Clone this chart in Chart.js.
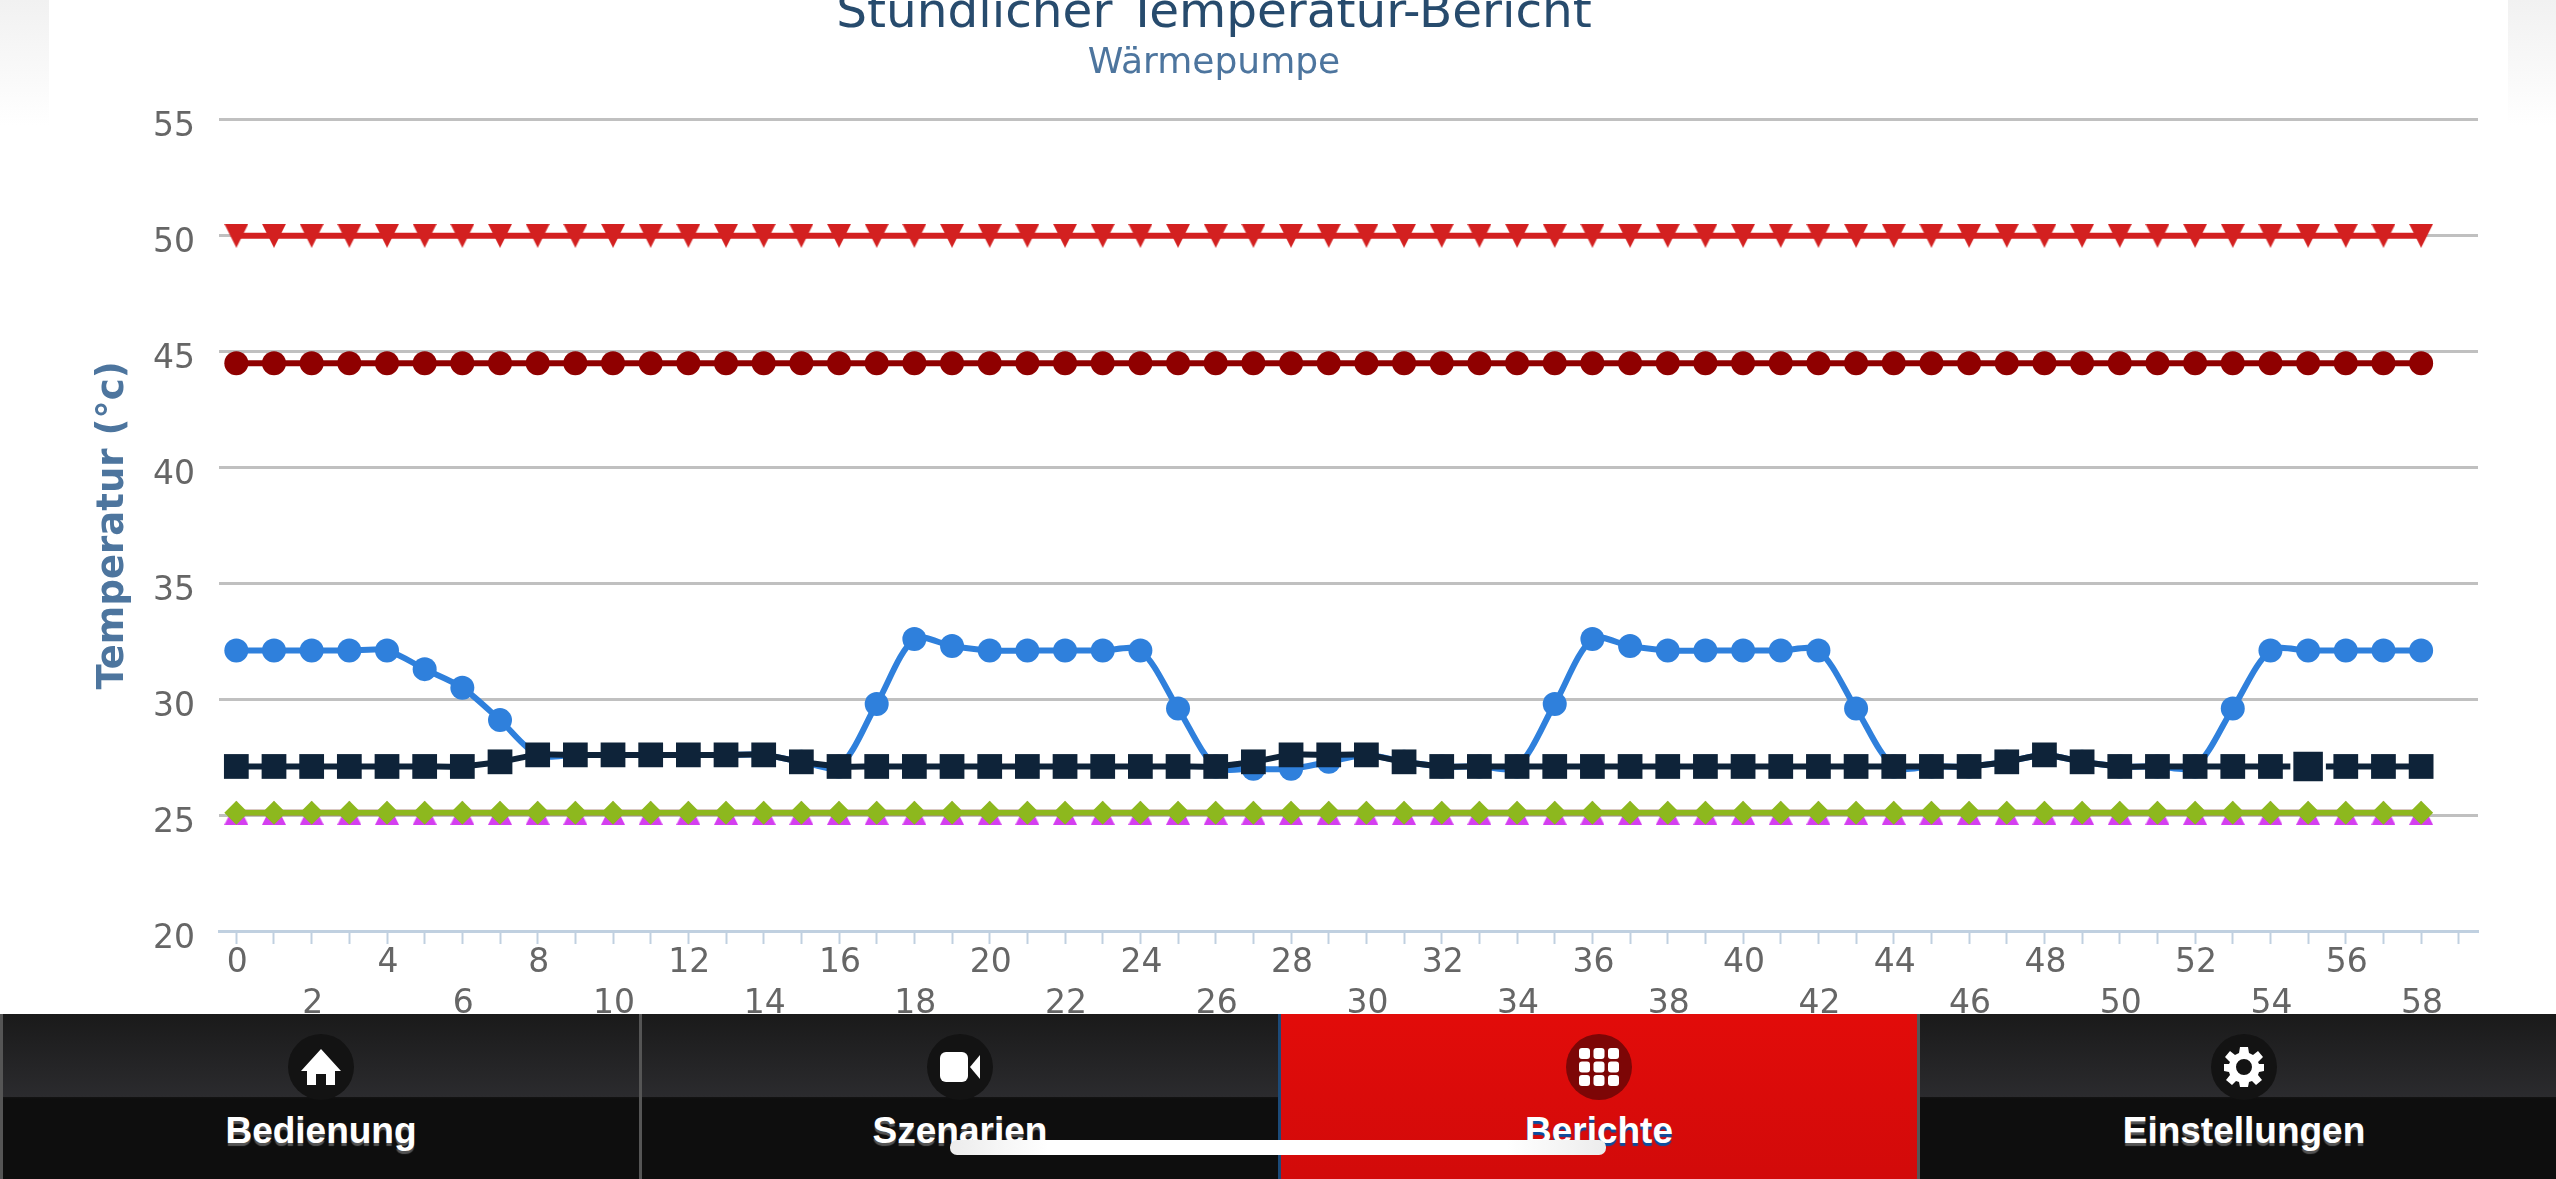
<!DOCTYPE html>
<html lang="de">
<head>
<meta charset="utf-8">
<title>Stündlicher Temperatur-Bericht</title>
<script src="https://cdn.jsdelivr.net/npm/chart.js@4"></script>
<style>
  html, body { margin: 0; width: 2556px; height: 1179px; overflow: hidden; background: #fff; }
  #side { position: absolute; left: 0; top: 0; width: 2556px; height: 126px; background: linear-gradient(#f1f1f1, #fff); }
  #card { position: absolute; left: 49px; top: 0; width: 2459px; height: 1179px; background: #fff; }
  #trendsChart { position: absolute; left: -128px; top: -40px; }
  #nav { position: absolute; left: 0; top: 1014px; width: 2556px; height: 165px; display: flex; background: #0e0e0e; }
  .tab { position: relative; box-sizing: border-box; width: 639px; border-left: 3px solid #555; background: linear-gradient(#1a1a1a 0, #2b2b2e 83px, #131313 83px, #0e0e0e 85px); color: #fff; font: bold 37px "Liberation Sans", sans-serif; text-align: center; }
  .tab.active { background: linear-gradient(#e20c0a, #d20a0a); border-left-color: #1c4a78; }
  .tab .ico { position: absolute; left: 50%; top: 20px; width: 66px; height: 66px; margin-left: -33px; border-radius: 50%; background: #131313; }
  .tab.active .ico { background: #7d0606; }
  .tab .ico svg { position: absolute; left: 13px; top: 13px; width: 40px; height: 40px; fill: #fff; }
  .tab span { position: absolute; left: 0; right: 0; top: 96px; text-shadow: 0 3px 1px #555; }
  .tab.active span { text-shadow: 0 3px 1px #0a4fa0; }
  .tab.last .ico { margin-left: -27px; }
  .tab.last span { left: 12px; }
  #pill { position: absolute; left: 950px; top: 1140px; width: 656px; height: 15px; border-radius: 7px; background: linear-gradient(90deg, #ececec, #fff 15%, #fff 85%, #ececec); }
</style>
</head>
<body>
<div id="side"></div>
<div id="card"></div>
<canvas id="trendsChart" width="2684" height="1219"></canvas>
<div id="nav">
  <div class="tab"><div class="ico"><svg viewBox="0 0 40 40"><path d="M20 2 L40 24 H34 V38 H25 V27 H15 V38 H6 V24 H0 Z"/></svg></div><span>Bedienung</span></div>
  <div class="tab"><div class="ico"><svg viewBox="0 0 40 40"><rect x="0" y="5" width="28" height="30" rx="6"/><path d="M30 20 L40 8 V32 Z"/></svg></div><span>Szenarien</span></div>
  <div class="tab active"><div class="ico"><svg viewBox="0 0 40 40"><rect x="0" y="1" width="11" height="11" rx="3"/><rect x="14.5" y="1" width="11" height="11" rx="3"/><rect x="29" y="1" width="11" height="11" rx="3"/><rect x="0" y="14.5" width="11" height="11" rx="3"/><rect x="14.5" y="14.5" width="11" height="11" rx="3"/><rect x="29" y="14.5" width="11" height="11" rx="3"/><rect x="0" y="28" width="11" height="11" rx="3"/><rect x="14.5" y="28" width="11" height="11" rx="3"/><rect x="29" y="28" width="11" height="11" rx="3"/></svg></div><span>Berichte</span></div>
  <div class="tab last"><div class="ico"><svg viewBox="0 0 40 40"><path fill-rule="evenodd" d="M16 0 H24 L25 6 L29 8 L34 4 L39 10 L34 15 L35 17 H40 V24 L35 25 L34 28 L38 33 L32 38 L28 34 L25 35 L24 40 H16 L15 35 L12 34 L8 38 L2 33 L6 28 L5 25 L0 24 V17 H5 L6 15 L1 10 L6 4 L11 8 L15 6 Z M20 12 A8 8 0 1 0 20 28 A8 8 0 1 0 20 12 Z"/></svg></div><span>Einstellungen</span></div>
</div>
<div id="pill"></div>
<script>
// X-Achse: Stunden
const stunden = [
    0, 1, 2, 3, 4, 5, 6, 7, 8, 9, 10, 11, 12, 13, 14, 15, 16, 17, 18, 19,
    20, 21, 22, 23, 24, 25, 26, 27, 28, 29, 30, 31, 32, 33, 34, 35, 36, 37, 38, 39,
    40, 41, 42, 43, 44, 45, 46, 47, 48, 49, 50, 51, 52, 53, 54, 55, 56, 57, 58
];

const sollMax = [
    50, 50, 50, 50, 50, 50, 50, 50, 50, 50, 50, 50, 50, 50, 50, 50, 50, 50, 50, 50,
    50, 50, 50, 50, 50, 50, 50, 50, 50, 50, 50, 50, 50, 50, 50, 50, 50, 50, 50, 50,
    50, 50, 50, 50, 50, 50, 50, 50, 50, 50, 50, 50, 50, 50, 50, 50, 50, 50, 50
];
const speicher = [
    44.5, 44.5, 44.5, 44.5, 44.5, 44.5, 44.5, 44.5, 44.5, 44.5, 44.5, 44.5, 44.5, 44.5, 44.5, 44.5, 44.5, 44.5, 44.5, 44.5,
    44.5, 44.5, 44.5, 44.5, 44.5, 44.5, 44.5, 44.5, 44.5, 44.5, 44.5, 44.5, 44.5, 44.5, 44.5, 44.5, 44.5, 44.5, 44.5, 44.5,
    44.5, 44.5, 44.5, 44.5, 44.5, 44.5, 44.5, 44.5, 44.5, 44.5, 44.5, 44.5, 44.5, 44.5, 44.5, 44.5, 44.5, 44.5, 44.5
];
const vorlauf = [
    32.1, 32.1, 32.1, 32.1, 32.1, 31.3, 30.5, 29.1, 27.6, 27.6, 27.6, 27.6, 27.6, 27.6, 27.6, 27.3, 27.1, 29.8, 32.6, 32.3,
    32.1, 32.1, 32.1, 32.1, 32.1, 29.6, 27.1, 27.0, 27.0, 27.3, 27.6, 27.3, 27.1, 27.1, 27.1, 29.8, 32.6, 32.3, 32.1, 32.1,
    32.1, 32.1, 32.1, 29.6, 27.1, 27.1, 27.1, 27.3, 27.6, 27.3, 27.1, 27.1, 27.1, 29.6, 32.1, 32.1, 32.1, 32.1, 32.1
];
const ruecklauf = [
    27.1, 27.1, 27.1, 27.1, 27.1, 27.1, 27.1, 27.3, 27.6, 27.6, 27.6, 27.6, 27.6, 27.6, 27.6, 27.3, 27.1, 27.1, 27.1, 27.1,
    27.1, 27.1, 27.1, 27.1, 27.1, 27.1, 27.1, 27.3, 27.6, 27.6, 27.6, 27.3, 27.1, 27.1, 27.1, 27.1, 27.1, 27.1, 27.1, 27.1,
    27.1, 27.1, 27.1, 27.1, 27.1, 27.1, 27.1, 27.3, 27.6, 27.3, 27.1, 27.1, 27.1, 27.1, 27.1, 27.1, 27.1, 27.1, 27.1
];
const sollMin = [
    25.1, 25.1, 25.1, 25.1, 25.1, 25.1, 25.1, 25.1, 25.1, 25.1, 25.1, 25.1, 25.1, 25.1, 25.1, 25.1, 25.1, 25.1, 25.1, 25.1,
    25.1, 25.1, 25.1, 25.1, 25.1, 25.1, 25.1, 25.1, 25.1, 25.1, 25.1, 25.1, 25.1, 25.1, 25.1, 25.1, 25.1, 25.1, 25.1, 25.1,
    25.1, 25.1, 25.1, 25.1, 25.1, 25.1, 25.1, 25.1, 25.1, 25.1, 25.1, 25.1, 25.1, 25.1, 25.1, 25.1, 25.1, 25.1, 25.1
];
const aussen = [
    25.1, 25.1, 25.1, 25.1, 25.1, 25.1, 25.1, 25.1, 25.1, 25.1, 25.1, 25.1, 25.1, 25.1, 25.1, 25.1, 25.1, 25.1, 25.1, 25.1,
    25.1, 25.1, 25.1, 25.1, 25.1, 25.1, 25.1, 25.1, 25.1, 25.1, 25.1, 25.1, 25.1, 25.1, 25.1, 25.1, 25.1, 25.1, 25.1, 25.1,
    25.1, 25.1, 25.1, 25.1, 25.1, 25.1, 25.1, 25.1, 25.1, 25.1, 25.1, 25.1, 25.1, 25.1, 25.1, 25.1, 25.1, 25.1, 25.1
];

// Punkt, der im Bild gerade markiert ist
const markiert = 55;

// Dreiecke als kleine Canvas, die eingebauten sitzen nicht mittig
function dreieck(farbe, nachOben) {
    const c = document.createElement('canvas');
    c.width = 24;
    c.height = 24;
    const g = c.getContext('2d');
    g.fillStyle = farbe;
    g.beginPath();
    if (nachOben) {
        g.moveTo(12, 0); g.lineTo(24, 24); g.lineTo(0, 24);
    } else {
        g.moveTo(0, 0); g.lineTo(24, 0); g.lineTo(12, 24);
    }
    g.closePath();
    g.fill();
    return c;
}

function serie(werte, farbe, form, radius) {
    return {
        data: stunden.map((h, i) => ({ x: h, y: werte[i] })),
        borderColor: farbe,
        backgroundColor: farbe,
        borderWidth: 6,
        tension: 0.3,
        pointStyle: form,
        pointRadius: radius,
        pointBorderWidth: 0,
        clip: false
    };
}

const dunkel = serie(ruecklauf, '#0e2339', 'rect', 17.5);
dunkel.pointRadius = stunden.map((h, i) => i === markiert ? 23 : 17.5);
dunkel.pointBorderWidth = stunden.map((h, i) => i === markiert ? 3 : 0);
dunkel.pointBorderColor = '#fff';

const datasets = [
    serie(aussen, '#d43ef0', dreieck('#d43ef0', true), 12),
    serie(sollMin, '#8db81e', 'rectRot', 12),
    serie(vorlauf, '#2f80dc', 'circle', 12),
    dunkel,
    serie(speicher, '#8f0000', 'circle', 12),
    serie(sollMax, '#d32020', dreieck('#d32020', false), 12)
].reverse();

const ctx = document.getElementById('trendsChart').getContext('2d');
new Chart(ctx, {
    type: 'line',
    data: { datasets: datasets },
    options: {
        responsive: false,
        animation: false,
        devicePixelRatio: 1,
        layout: { padding: { top: 26, left: 78, right: 78, bottom: 0 } },
        plugins: {
            legend: { display: false },
            tooltip: { enabled: false },
            title: {
                display: true,
                text: 'Stündlicher Temperatur-Bericht',
                color: '#274b6d',
                font: { family: 'DejaVu Sans', size: 48.5, weight: 'normal', lineHeight: 1.19 },
                padding: { top: 0, bottom: 0 }
            },
            subtitle: {
                display: true,
                text: 'Wärmepumpe',
                color: '#4d759e',
                font: { family: 'DejaVu Sans', size: 36, weight: 'normal', lineHeight: 1.1 },
                padding: { top: 0, bottom: 36.6 }
            }
        },
        scales: {
            x: {
                type: 'linear',
                min: -0.46,
                max: 59.51,
                afterFit: s => { s.height = 248; },
                grid: { drawOnChartArea: false, tickColor: '#c0d0e0', tickLength: 13, tickWidth: 2 },
                border: { color: '#c0d0e0', width: 3 },
                ticks: {
                    stepSize: 1,
                    includeBounds: false,
                    autoSkip: false,
                    maxRotation: 0,
                    color: '#666',
                    padding: -2,
                    labelOffset: 1,
                    font: { family: 'DejaVu Sans', size: 33, lineHeight: 1.27 },
                    // versetzte Beschriftung in zwei Zeilen
                    callback: v => {
                        if (v % 2 !== 0 || v > 58) return '';
                        return v % 4 === 0 ? String(v) : ['', String(v)];
                    }
                }
            },
            y: {
                min: 20,
                max: 55,
                afterFit: s => { s.width = 269; },
                title: {
                    display: true,
                    text: 'Temperatur (°c)',
                    color: '#4d759e',
                    padding: { top: 141, bottom: 0 },
                    font: { family: 'DejaVu Sans', size: 37, weight: 'bold', lineHeight: 1.2 }
                },
                grid: {
                    color: c => c.tick.value === 20 ? 'rgba(0,0,0,0)' : '#c0c0c0',
                    lineWidth: 3,
                    drawTicks: false
                },
                border: { display: false },
                ticks: {
                    stepSize: 5,
                    color: '#666',
                    padding: 24,
                    labelOffset: 8,
                    font: { family: 'DejaVu Sans', size: 33 }
                }
            }
        }
    }
});
</script>
</body>
</html>
